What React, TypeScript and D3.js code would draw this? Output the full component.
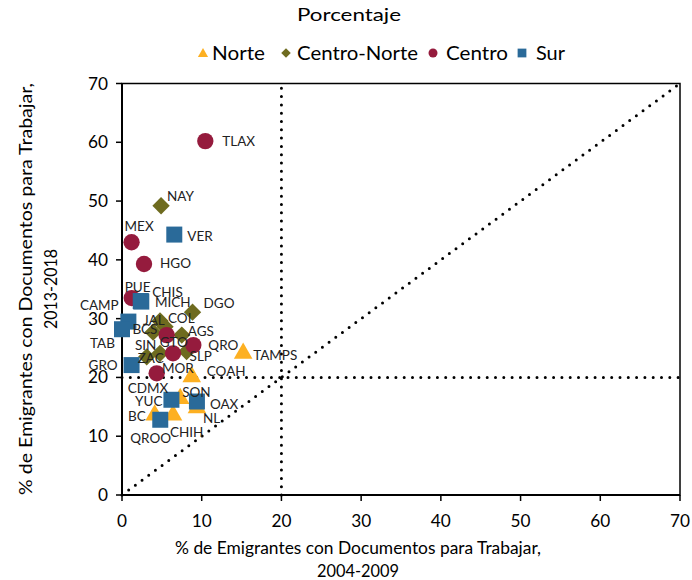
import React from 'react';
import * as d3 from 'd3';

// Groups (series) in legend order
const groups = ['Norte', 'Centro-Norte', 'Centro', 'Sur'];
const groupColors = ['#FDB022', '#6E6B1F', '#951B3D', '#2A6A99'];

// % con documentos para trabajar: [estado, 2004-2009, 2013-2018]
const norte: [string, number, number][] = [
  ['TAMPS', 15.2, 24.1],
  ['COAH', 8.75, 20.1],
  ['SON', 7.3, 16.4],
  ['NL', 9.4, 14.8],
  ['CHIH', 6.4, 13.6],
  ['BC', 4.1, 13.6],
];
const centroNorte: [string, number, number][] = [
  ['NAY', 4.9, 49.2],
  ['DGO', 8.85, 31.1],
  ['MICH', 4.77, 29.6],
  ['COL', 5.4, 28.6],
  ['JAL', 3.9, 27.7],
  ['AGS', 7.5, 27.2],
  ['SLP', 8.1, 24.4],
  ['SIN', 4.77, 24.1],
  ['ZAC', 3.1, 23.5],
];
const centro: [string, number, number][] = [
  ['TLAX', 10.45, 60.2],
  ['MEX', 1.2, 43.0],
  ['HGO', 2.76, 39.3],
  ['PUE', 1.22, 33.5],
  ['GTO', 5.6, 27.2],
  ['QRO', 8.95, 25.5],
  ['MOR', 6.4, 24.1],
  ['CDMX', 4.35, 20.7],
];
const sur: [string, number, number][] = [
  ['VER', 6.56, 44.3],
  ['CAMP', 2.35, 33.0],
  ['CHIS', 2.42, 32.9],
  ['BCS', 0.8, 29.5],
  ['TAB', 0.0, 28.2],
  ['GRO', 1.2, 22.1],
  ['YUC', 6.2, 16.2],
  ['OAX', 9.4, 15.9],
  ['QROO', 4.8, 12.8],
];
const seriesData = [norte, centroNorte, centro, sur];

const xTicks = [0, 10, 20, 30, 40, 50, 60, 70];
const yTicks = [0, 10, 20, 30, 40, 50, 60, 70];
const threshold = 20;

// label placement relative to marker: [dx, dy, anchor]
const labelPos: Record<string, [number, number, string]> = {
  TLAX: [17, 0, 'start'], NAY: [6, -9, 'start'], MEX: [-7, -16, 'start'],
  VER: [13, 2, 'start'], HGO: [16, 0, 'start'], CAMP: [-22, 4, 'end'],
  PUE: [-7, -11, 'start'], CHIS: [11, -9, 'start'], MICH: [-5, -18, 'start'],
  DGO: [11, -9, 'start'], JAL: [-10, -12, 'start'], COL: [3, -8, 'start'],
  BCS: [4, 8, 'start'], AGS: [6, -4, 'start'], TAB: [-7, 14, 'end'],
  SIN: [-25, -8, 'start'], GTO: [-7, 7, 'start'], QRO: [15, 0, 'start'],
  ZAC: [-9, 2, 'start'], SLP: [3, 5, 'start'], GRO: [-14, 0, 'end'],
  MOR: [-11, 15, 'start'], COAH: [15, -5, 'start'], TAMPS: [10, 2, 'start'],
  CDMX: [-29, 15, 'start'], SON: [2, -6, 'start'], YUC: [-9, 2, 'end'],
  OAX: [13, 3, 'start'], BC: [-9, 1, 'end'], NL: [6, 11, 'start'],
  CHIH: [-3, 17, 'start'], QROO: [-30, 19, 'start'],
};

const W = 692;
const H = 580;
const FONT = 'Lato, "Open Sans", sans-serif';

function markerPath(i: number, big: boolean) {
  const s = big ? 1 : 0.3;
  if (i === 0) return d3.symbol(d3.symbolTriangle, 150 * s)()!;
  if (i === 1) return d3.symbol(d3.symbolSquare, 150 * s)()!;
  if (i === 2) return d3.symbol(d3.symbolCircle, 210 * s)()!;
  return d3.symbol(d3.symbolSquare, 256 * s)()!;
}

const App: React.FC = () => {
  const x = d3.scaleLinear().domain([0, 70]).range([122, 680]);
  const y = d3.scaleLinear().domain([0, 70]).range([495, 83.5]);

  const dotted = {
    stroke: '#000', strokeWidth: 3, strokeDasharray: '0 8.3', strokeLinecap: 'round' as const, fill: 'none',
  };

  const legendItems = [
    { mx: 203, tx: 212, len: 53 },
    { mx: 286, tx: 297, len: 121 },
    { mx: 433, tx: 446, len: 62 },
    { mx: 522, tx: 536, len: 29 },
  ];

  return (
    <svg width={W} height={H} style={{ position: 'absolute', left: 0, top: 0, background: '#fff' }}
      fontFamily={FONT}>
      <rect width={W} height={H} fill="#fff" />
      <text x={349} y={21} textAnchor="middle" fontSize={18} textLength={104} lengthAdjust="spacingAndGlyphs"
        fill="#000">Porcentaje</text>

      {/* legend */}
      {groups.map((g, i) => (
        <g key={g}>
          <path d={markerPath(i, false)} fill={groupColors[i]}
            transform={`translate(${legendItems[i].mx},${i === 0 ? 54 : 53}) rotate(${i === 1 ? 45 : 0})`} />
          <text x={legendItems[i].tx} y={60} fontSize={19} textLength={legendItems[i].len}
            lengthAdjust="spacingAndGlyphs" fill="#000">{g}</text>
        </g>
      ))}

      {/* frame */}
      <rect x={x(0)} y={y(70)} width={x(70) - x(0)} height={y(0) - y(70)} fill="none" stroke="#000" strokeWidth={1.5} />
      <line x1={x(0)} x2={x(0)} y1={y(70)} y2={y(0)} stroke="#000" strokeWidth={2} />
      <line x1={x(0)} x2={x(70)} y1={y(0)} y2={y(0)} stroke="#000" strokeWidth={2} />

      {/* ticks */}
      {xTicks.map(t => (
        <g key={'x' + t}>
          <line x1={x(t)} x2={x(t)} y1={y(0)} y2={y(0) + 6} stroke="#000" strokeWidth={1.5} />
          <text x={x(t)} y={527} textAnchor="middle" fontSize={17} fill="#000"
            textLength={t === 0 ? 10 : 20} lengthAdjust="spacingAndGlyphs">{t}</text>
        </g>
      ))}
      {yTicks.map(t => (
        <g key={'y' + t}>
          <line x1={x(0) - 6} x2={x(0)} y1={y(t)} y2={y(t)} stroke="#000" strokeWidth={1.5} />
          <text x={108} y={y(t) + 6} textAnchor="end" fontSize={17} fill="#000"
            textLength={t === 0 ? 10 : 20} lengthAdjust="spacingAndGlyphs">{t}</text>
        </g>
      ))}

      {/* reference lines */}
      <line x1={x(threshold)} x2={x(threshold)} y1={y(0)} y2={y(70)} style={dotted} />
      <line x1={x(0)} x2={x(70)} y1={y(threshold)} y2={y(threshold)} style={dotted} />
      <line x1={x(0)} x2={x(70)} y1={y(0)} y2={y(70)} style={dotted} />

      {/* markers */}
      {seriesData.map((s, i) => (
        <g key={groups[i]} fill={groupColors[i]}>
          {s.map(([name, vx, vy]) => (
            <path key={name} d={markerPath(i, true)}
              transform={`translate(${x(vx)},${y(vy)}) rotate(${i === 1 ? 45 : 0})`} />
          ))}
        </g>
      ))}

      {/* point labels */}
      {seriesData.flat().map(([name, vx, vy]) => {
        const [dx, dy, anchor] = labelPos[name];
        return (
          <text key={'l' + name} x={x(vx) + dx} y={y(vy) + dy + 4.5} textAnchor={anchor as any}
            fontSize={13.5} fill="#222">{name}</text>
        );
      })}

      {/* axis titles */}
      <text x={358} y={554} textAnchor="middle" fontSize={17} fill="#000" textLength={366}
        lengthAdjust="spacingAndGlyphs">% de Emigrantes con Documentos para Trabajar,</text>
      <text x={358} y={577} textAnchor="middle" fontSize={17} fill="#000" textLength={82}
        lengthAdjust="spacingAndGlyphs">2004-2009</text>
      <text transform="translate(32,289) rotate(-90)" textAnchor="middle" fontSize={17} fill="#000"
        textLength={412} lengthAdjust="spacingAndGlyphs">% de Emigrantes con Documentos para Trabajar,</text>
      <text transform="translate(57,289) rotate(-90)" textAnchor="middle" fontSize={17} fill="#000"
        textLength={80} lengthAdjust="spacingAndGlyphs">2013-2018</text>
    </svg>
  );
};

export default App;
